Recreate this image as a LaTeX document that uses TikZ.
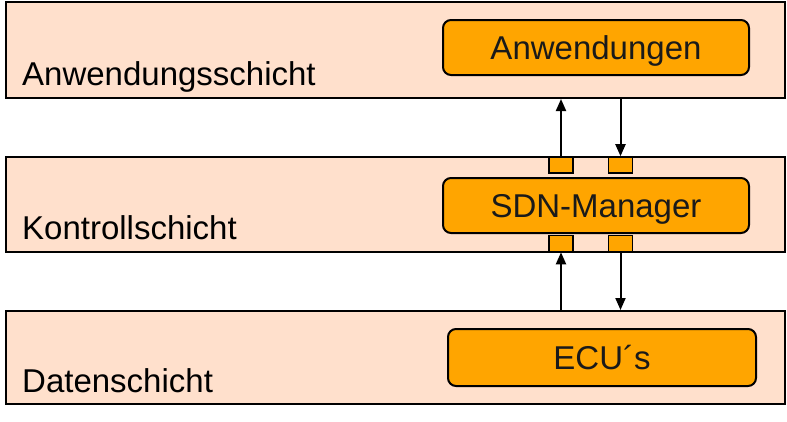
\documentclass[tikz,border=0pt]{standalone}
\usepackage{fontspec}
\setmainfont{Liberation Sans}
\usetikzlibrary{arrows.meta}
\definecolor{layerfill}{HTML}{FFE0CC}
\definecolor{boxfill}{HTML}{FFA500}
\definecolor{txt}{HTML}{1A1A1A}
\begin{document}
\begin{tikzpicture}[x=1pt,y=-1pt,
  layer/.style={draw=black,line width=2pt,fill=layerfill,inner sep=0pt},
  module/.style={draw=black,line width=2pt,fill=boxfill,rounded corners=8pt,inner sep=0pt,
    minimum width=306pt,minimum height=55pt,text=txt},
  mtext/.style={inner sep=0pt,anchor=base,font=\fontsize{33}{38}\selectfont,text=txt},
  port/.style={draw=black,line width=1.6pt,fill=boxfill,inner sep=0pt,minimum width=24pt,minimum height=16pt},
  lbl/.style={anchor=base west,inner sep=0pt,font=\fontsize{33}{38}\selectfont,text=black},
  conn/.style={line width=2pt,-{Triangle[length=12pt,width=10pt]}}]
\useasboundingbox (0,0) rectangle (787,421);
\fill[white] (0,0) rectangle (787,421);
% layers
\node[layer,minimum width=779pt,minimum height=96pt] (top) at (395.5,50) {};
\node[layer,minimum width=779pt,minimum height=95pt] (mid) at (395.5,204.5) {};
\node[layer,minimum width=779pt,minimum height=93pt] (bot) at (395.5,357.5) {};
% labels
\node[lbl] (ltop) at (22,85) {Anwendungsschicht};
\node[lbl] (lmid) at (22,239) {Kontrollschicht};
\node[lbl] (lbot) at (22,392) {Datenschicht};
% modules
\node[module] (app) at (596,47.5) {};
\node[module] (sdn) at (596,205.5) {};
\node[module,minimum width=308pt,minimum height=57pt] (ecu) at (602,357.5) {};
\node[mtext] (tapp) at (596,59) {Anwendungen};
\node[mtext] (tsdn) at (596,217) {SDN-Manager};
\node[mtext] (tecu) at (602,369) {ECU´s};
% ports
\node[port] (p1) at (561,165) {};
\node[port] (p2) at (620.5,165) {};
\node[port] (p3) at (561,243.5) {};
\node[port] (p4) at (620.5,243.5) {};
% connectors
\draw[conn] (p1.north) -- (p1.north |- top.south);
\draw[conn] (top.south -| p2.north) -- (p2.north);
\draw[conn] (p3.south |- bot.north) -- (p3.south);
\draw[conn] (p4.south) -- (p4.south |- bot.north);
\end{tikzpicture}
\end{document}
